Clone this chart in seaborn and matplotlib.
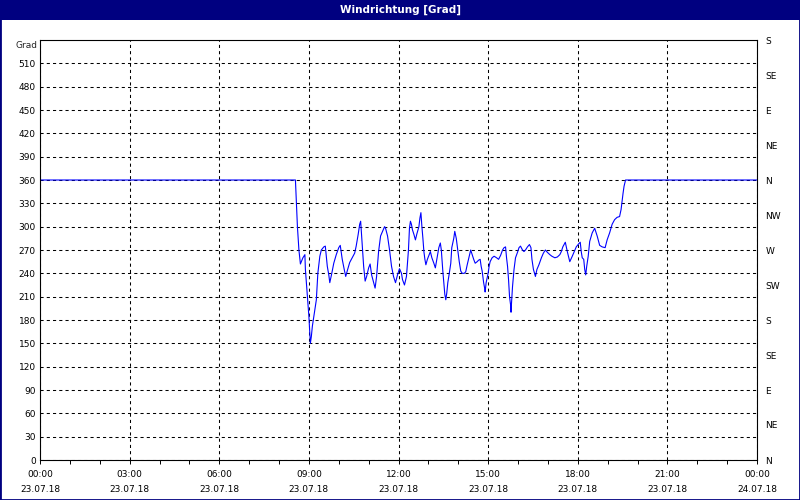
import pandas as pd
import matplotlib.pyplot as plt
import matplotlib.dates as mdates
from matplotlib.patches import Rectangle
import seaborn as sns

# wind direction readings (clock time -> degrees), 23.07.18
times = ["00:00", "08:33", "08:37", "08:40", "08:43", "08:48", "08:52", "08:53", "08:57",
         "09:00", "09:02", "09:03", "09:05", "09:07", "09:10", "09:15", "09:18", "09:22", "09:25",
         "09:30", "09:33", "09:37", "09:40", "09:42", "09:46", "09:50", "09:55",
         "10:00", "10:03", "10:07", "10:11", "10:14", "10:17", "10:22", "10:27", "10:32", "10:35",
         "10:39", "10:42", "10:44", "10:47", "10:50", "10:53", "10:56",
         "11:00", "11:03", "11:06", "11:10", "11:13", "11:16", "11:20", "11:24", "11:28", "11:32",
         "11:34", "11:38", "11:42", "11:46", "11:50", "11:54", "11:58",
         "12:02", "12:06", "12:08", "12:12", "12:16", "12:20", "12:22", "12:24", "12:26", "12:28",
         "12:31", "12:34", "12:37", "12:41", "12:43", "12:45", "12:47", "12:49", "12:51", "12:53",
         "12:55", "12:58",
         "13:01", "13:04", "13:07", "13:11", "13:14", "13:17", "13:21", "13:24", "13:26", "13:29",
         "13:31", "13:33", "13:35", "13:37", "13:39", "13:42", "13:45", "13:47", "13:51", "13:53",
         "13:56", "13:59",
         "14:02", "14:05", "14:08", "14:12", "14:15", "14:18", "14:22", "14:25", "14:28", "14:31",
         "14:34", "14:38", "14:41", "14:44", "14:46", "14:48", "14:51", "14:53", "14:54", "14:56",
         "15:00", "15:02", "15:04", "15:08", "15:12", "15:17", "15:21", "15:25", "15:29", "15:32",
         "15:35", "15:37", "15:39", "15:41", "15:43", "15:45", "15:46", "15:47", "15:49", "15:52",
         "15:55", "15:59",
         "16:02", "16:05", "16:09", "16:12", "16:15", "16:19", "16:23", "16:26", "16:28", "16:31",
         "16:35", "16:38", "16:42", "16:47", "16:51", "16:55", "16:59",
         "17:04", "17:08", "17:14", "17:19", "17:24", "17:27", "17:30", "17:35", "17:39", "17:42",
         "17:44", "17:49", "17:53", "17:57",
         "18:02", "18:05", "18:07", "18:09", "18:12", "18:14", "18:16", "18:18", "18:21", "18:24",
         "18:29", "18:34", "18:39", "18:44", "18:49", "18:55", "18:59",
         "19:04", "19:09", "19:14", "19:19", "19:24", "19:27", "19:29", "19:31", "19:33", "19:36",
         "24:00"]
grad = [360, 360, 300, 270, 252, 260, 264, 245, 210,
        185, 163, 150, 159, 172, 185, 206, 240, 262, 270,
        274, 275, 249, 238, 228, 240, 253, 264,
        273, 276, 258, 245, 236, 243, 254, 260, 266, 275,
        290, 303, 307, 277, 249, 230, 236,
        247, 252, 238, 228, 221, 236, 268, 288, 294, 300,
        298, 288, 270, 249, 236, 228, 238,
        246, 240, 232, 225, 236, 270, 298, 307, 303, 296,
        290, 283, 291, 300, 311, 318, 300, 285, 268, 258,
        251, 258,
        263, 268, 260, 253, 247, 258, 273, 279, 270, 243,
        228, 213, 206, 215, 228, 240, 253, 273, 285, 294,
        285, 270,
        255, 243, 240, 240, 242, 251, 262, 270, 264, 258,
        253, 255, 257, 258, 249, 243, 228, 221, 216, 228,
        240, 249, 255, 260, 262, 260, 258, 263, 270, 273,
        274, 260, 249, 232, 210, 200, 190, 202, 223, 245,
        260, 267,
        273, 275, 270, 268, 270, 274, 277, 273, 258, 245,
        236, 245, 251, 260, 266, 270, 267,
        264, 262, 260, 261, 264, 268, 274, 280, 268, 260,
        255, 262, 268, 274,
        278, 280, 268, 260, 258, 245, 238, 249, 262, 281,
        292, 298, 288, 276, 274, 273, 283,
        292, 303, 309, 312, 313, 322, 333, 343, 352, 360,
        360]

tick_labels = ["00:00\n23.07.18", "03:00\n23.07.18", "06:00\n23.07.18", "09:00\n23.07.18",
               "12:00\n23.07.18", "15:00\n23.07.18", "18:00\n23.07.18", "21:00\n23.07.18",
               "00:00\n24.07.18"]
compass = ["N", "NE", "E", "SE", "S", "SW", "W", "NW", "N", "NE", "E", "SE", "S"]

day = pd.Timestamp("2018-07-23")
df = pd.DataFrame({
    "zeit": [day + pd.to_timedelta(t + ":00") for t in times],
    "grad": grad,
})

sns.set_style("white")
plt.rcParams['font.family'] = ['Liberation Sans Narrow', 'DejaVu Sans']
plt.rcParams['font.size'] = 6.5

fig = plt.figure(figsize=(8, 5), dpi=100)
fig.patch.set_facecolor('white')
ax = fig.add_axes([40 / 800, 1 - 460 / 500, 717 / 800, 420 / 500])

sns.lineplot(data=df, x="zeit", y="grad", ax=ax, color='#0000ff', linewidth=0.8, estimator=None)

# axes limits / ticks
ax.set_xlim(day, day + pd.Timedelta(days=1))
ax.set_ylim(0, 540)
major = [day + pd.Timedelta(hours=h) for h in range(0, 25, 3)]
ax.set_xticks(major)
ax.set_xticklabels(tick_labels, linespacing=1.9, color='black')
ax.xaxis.set_minor_locator(mdates.HourLocator())
ax.set_yticks(range(0, 511, 30))
ax.tick_params(axis='y', length=0, pad=3, labelsize=6.5, colors='black')
ax.tick_params(axis='x', which='both', direction='out', length=3, width=0.7, pad=4,
               bottom=True, labelsize=6.5, colors='black')
ax.set_xlabel("")
ax.set_ylabel("")

ax.grid(True, which='major', color='black', linestyle=(0, (3, 3)), linewidth=0.75)
for s in ax.spines.values():
    s.set_color('black')
    s.set_linewidth(0.8)

# compass labels on the right
ax2 = ax.twinx()
ax2.set_ylim(0, 540)
ax2.set_yticks(range(0, 541, 45))
ax2.set_yticklabels(compass)
ax2.tick_params(axis='y', length=0, pad=6, labelsize=6.5, colors='black')
for s in ax2.spines.values():
    s.set_visible(False)

fig.text(37 / 800, 1 - 45 / 500, "Grad", ha='right', va='center', fontsize=6.5)

# window title bar and border
fig.add_artist(Rectangle((0, 1 - 20 / 500), 1, 20 / 500, transform=fig.transFigure,
                         facecolor='#000080', edgecolor='none'))
fig.text(0.5, 1 - 10 / 500, "Windrichtung [Grad]", ha='center', va='center',
         color='white', fontsize=7.5, fontweight='bold')
fig.add_artist(Rectangle((0, 0), 1, 1, transform=fig.transFigure, fill=False,
                         edgecolor='#000080', linewidth=2))

fig.savefig("out.png", dpi=100)
